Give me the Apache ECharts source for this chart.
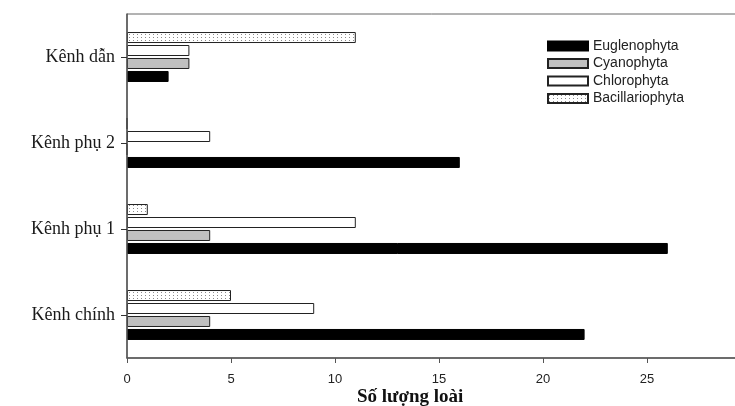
<!DOCTYPE html>
<html>
<head>
<meta charset="utf-8">
<script src="https://cdn.jsdelivr.net/npm/echarts@6/dist/echarts.min.js"></script>
<style>
html,body{margin:0;padding:0;background:#fff;}
#chartmain{width:735px;height:406px;}
</style>
</head>
<body>
<div id="chartmain"></div>
<script>
// du lieu
var categories = ['Kênh chính', 'Kênh phụ 1', 'Kênh phụ 2', 'Kênh dẫn'];
var euglenophyta = [22, 26, 16, 2];
var cyanophyta = [4, 4, 0, 3];
var chlorophyta = [9, 11, 4, 3];
var bacillariophyta = [5, 1, 0, 11];
var xTicks = [0, 5, 10, 15, 20, 25];

// hoa van cham cho Bacillariophyta
function dotPattern(){
	var c = document.createElement('canvas');
	c.width = 4;
	c.height = 3;
	var ctx = c.getContext('2d');
	ctx.fillStyle = '#ffffff';
	ctx.fillRect(0, 0, 4, 3);
	ctx.fillStyle = '#8a8a8a';
	ctx.fillRect(1, 1, 1, 1);
	return {image: c, repeat: 'repeat'};
}

var myChart = echarts.init(document.getElementById('chartmain'));
var barW = 11;
var option = {
	animation: false,
	backgroundColor: '#ffffff',
	grid: {
		left: 127,
		top: 14,
		bottom: 48,
		width: 624,
		outerBoundsMode: 'none',
		containLabel: false,
		show: true,
		borderColor: '#666',
		borderWidth: 1
	},
	legend: {
		orient: 'vertical',
		left: 547,
		top: 39,
		padding: 0,
		icon: 'rect',
		itemWidth: 40,
		itemHeight: 9,
		itemGap: 3.5,
		textStyle: {
			fontFamily: 'Liberation Sans',
			fontSize: 14,
			color: '#222',
			lineHeight: 14
		},
		data: ['Euglenophyta', 'Cyanophyta', 'Chlorophyta', 'Bacillariophyta']
	},
	graphic: [{
		type: 'text',
		left: 357,
		top: 388,
		style: {
			text: 'Số lượng loài',
			font: 'bold 19px "Liberation Serif"',
			fill: '#111'
		}
	}],
	xAxis: {
		type: 'value',
		min: 0,
		max: 30,
		interval: 5,
		splitLine: {show: false},
		axisLine: {show: true, lineStyle: {color: '#555', width: 1.5}},
		axisTick: {show: true, length: 5, lineStyle: {color: '#555'}},
		axisLabel: {
			margin: 15,
			fontFamily: 'Liberation Sans',
			fontSize: 13,
			color: '#222',
			formatter: function(v){
				return xTicks.indexOf(v) >= 0 ? String(v) : '';
			}
		}
	},
	yAxis: {
		type: 'category',
		data: categories,
		z: 5,
		axisLine: {show: true, lineStyle: {color: '#555', width: 1.5}},
		axisTick: {show: true, alignWithLabel: true, length: 6, lineStyle: {color: '#333'}},
		axisLabel: {
			margin: 12,
			fontFamily: 'Liberation Serif',
			fontSize: 18,
			color: '#1a1a1a'
		}
	},
	// thu tu nguoc: Bacillariophyta o tren, Euglenophyta o duoi
	series: [
		{
			name: 'Bacillariophyta',
			type: 'bar',
			barWidth: barW,
			barGap: '18%',
			data: bacillariophyta,
			itemStyle: {color: dotPattern(), borderColor: '#222', borderWidth: 1}
		},
		{
			name: 'Chlorophyta',
			type: 'bar',
			barWidth: barW,
			barGap: '18%',
			data: chlorophyta,
			itemStyle: {color: '#fff', borderColor: '#222', borderWidth: 1}
		},
		{
			name: 'Cyanophyta',
			type: 'bar',
			barWidth: barW,
			barGap: '18%',
			data: cyanophyta,
			itemStyle: {color: '#c0c0c0', borderColor: '#222', borderWidth: 1}
		},
		{
			name: 'Euglenophyta',
			type: 'bar',
			barWidth: barW,
			barGap: '18%',
			data: euglenophyta,
			itemStyle: {color: '#000', borderColor: '#000', borderWidth: 1}
		}
	]
};
myChart.setOption(option);
</script>
</body>
</html>
